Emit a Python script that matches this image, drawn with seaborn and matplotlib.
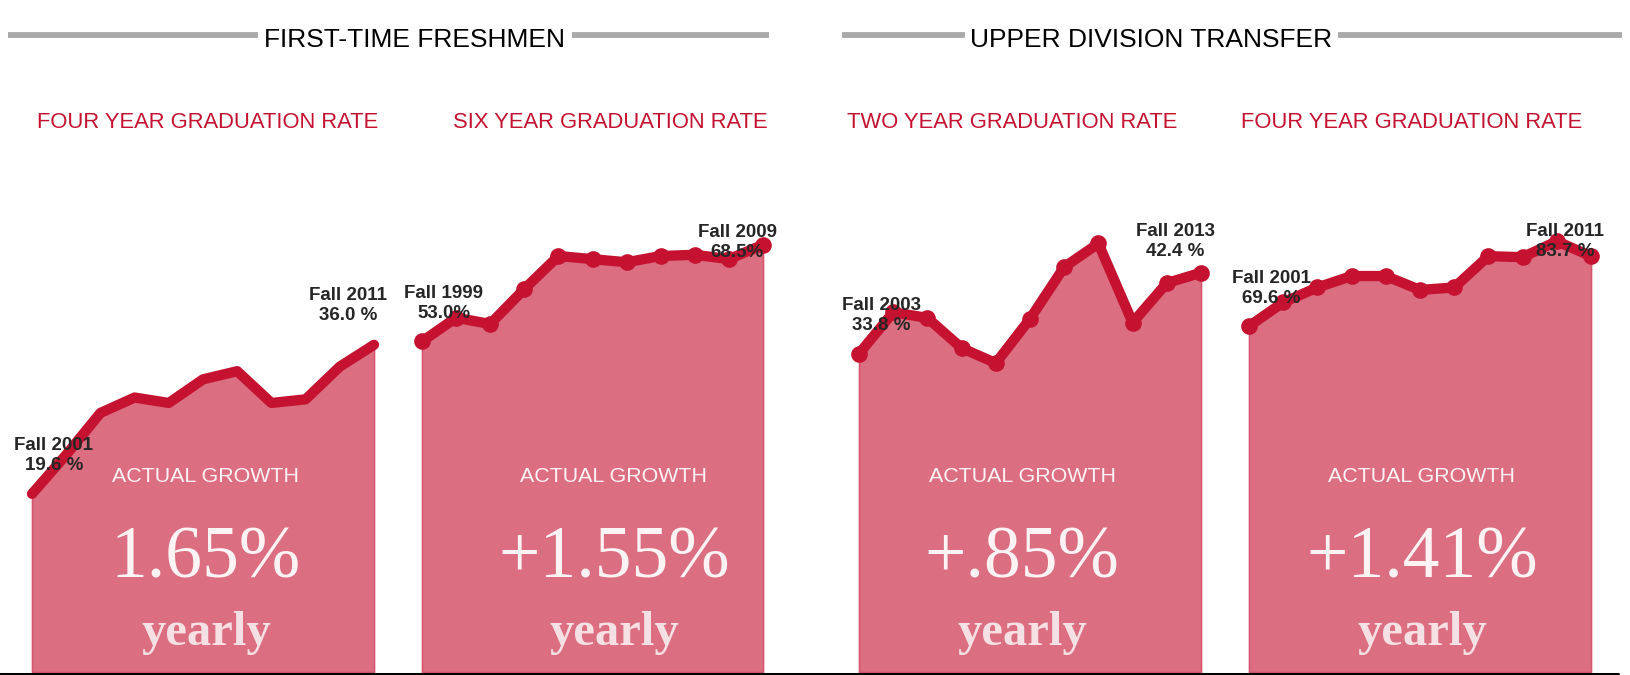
import pandas as pd
import seaborn as sns
import matplotlib.pyplot as plt
from matplotlib.lines import Line2D

W, H = 1630, 675

# graduation rates, one value per entering fall cohort
fr4_years = list(range(2001, 2012))
fr4_rates = [19.6, 23.9, 28.5, 30.2, 29.6, 32.2, 33.1, 29.6, 30.0, 33.6, 36.0]
fr6_years = list(range(1999, 2010))
fr6_rates = [53.0, 56.8, 55.8, 61.4, 66.7, 66.2, 65.7, 66.7, 66.9, 66.2, 68.5]
tr2_years = list(range(2003, 2014))
tr2_rates = [33.8, 38.2, 37.6, 34.4, 32.8, 37.5, 43.0, 45.5, 37.1, 41.3, 42.4]
tr4_years = list(range(2001, 2012))
tr4_rates = [69.6, 74.4, 77.4, 79.7, 79.7, 76.9, 77.4, 83.7, 83.5, 86.7, 83.7]

group_titles = ["FIRST-TIME FRESHMEN", "UPPER DIVISION TRANSFER"]
panel_titles = ["FOUR YEAR GRADUATION RATE", "SIX YEAR GRADUATION RATE",
                "TWO YEAR GRADUATION RATE", "FOUR YEAR GRADUATION RATE"]
growth = ["1.65%", "+1.55%", "+.85%", "+1.41%"]
start_labels = ["Fall 2001\n19.6 %", "Fall 1999\n53.0%", "Fall 2003\n33.8 %", "Fall 2001\n69.6 %"]
end_labels = ["Fall 2011\n36.0 %", "Fall 2009\n68.5%", "Fall 2013\n42.4 %", "Fall 2011\n83.7 %"]

series = [(fr4_years, fr4_rates), (fr6_years, fr6_rates),
          (tr2_years, tr2_rates), (tr4_years, tr4_rates)]

# layout (pixels from the top-left corner)
panel_px = [(32, 374), (422, 763), (859, 1201), (1249, 1591)]
ymax = [51.6, 75.2, 49.8, 94.4]
markers = [False, True, True, True]
end_dy = [39, 2, 31, 15]
text_cx = [206, 614, 1022, 1422]
sub_cx = [208, 610, 1012, 1412]
group_cx = [415, 1151]
group_lines = [[(8, 258), (572, 769)], [(842, 965), (1338, 1622)]]

RED = "#c41230"
FILL = "#db6e80"
EDGE = "#d65670"
SANS = "Liberation Sans"


def fx(x):
    return x / W


def fy(y):
    return 1 - y / H


sns.set_style("white")
fig = plt.figure(figsize=(W / 100, H / 100), dpi=100)

for i, (years, rates) in enumerate(series):
    x0, x1 = panel_px[i]
    ax = fig.add_axes([fx(x0), 3 / H, (x1 - x0) / W, 469 / H])
    df = pd.DataFrame({"year": years, "rate": rates})
    ax.fill_between(df["year"], df["rate"], 0, facecolor=FILL, edgecolor=EDGE,
                    lw=1.2, clip_on=False, zorder=1)
    kw = dict(marker="o", markersize=12, markeredgewidth=0) if markers[i] else {}
    sns.lineplot(data=df, x="year", y="rate", ax=ax, color=RED, lw=7.4,
                 solid_capstyle="round", solid_joinstyle="round",
                 clip_on=False, zorder=2, **kw)
    ax.set_xlim(years[0], years[-1])
    ax.set_ylim(0, ymax[i])
    ax.axis("off")

    lab = dict(textcoords="offset pixels", ha="center", va="center",
               fontsize=13.5, fontweight="bold", family=SANS,
               linespacing=1.25, zorder=5, annotation_clip=False)
    ax.annotate(start_labels[i], (years[0], rates[0]), xytext=(22, 38), **lab)
    ax.annotate(end_labels[i], (years[-1], rates[-1]), xytext=(-26, end_dy[i]), **lab)

    fig.text(fx(sub_cx[i]), fy(122), panel_titles[i], ha="center", va="center",
             color=RED, fontsize=15.8, family=SANS)
    fig.text(fx(text_cx[i]), fy(482), "ACTUAL GROWTH", ha="center", va="baseline",
             color="#fdf2f4", fontsize=15.4, family=SANS)
    fig.text(fx(text_cx[i]), fy(578), growth[i], ha="center", va="baseline",
             color="#fdf2f4", fontsize=53, family="Liberation Serif")
    fig.text(fx(text_cx[i]), fy(645), "yearly", ha="center", va="baseline",
             color="#f6e0e4", fontsize=35, fontweight="bold", family="Liberation Serif")

for j, title in enumerate(group_titles):
    fig.text(fx(group_cx[j]), fy(40), title, ha="center", va="center",
             color="black", fontsize=19, family=SANS)
    for a, b in group_lines[j]:
        fig.add_artist(Line2D([fx(a), fx(b)], [fy(35), fy(35)], color="#aaaaaa",
                              lw=4.2, solid_capstyle="butt"))

fig.add_artist(Line2D([0, fx(1618)], [fy(673.5), fy(673.5)], color="black", lw=2.2))

plt.savefig("out.png", dpi=100)
plt.close()
